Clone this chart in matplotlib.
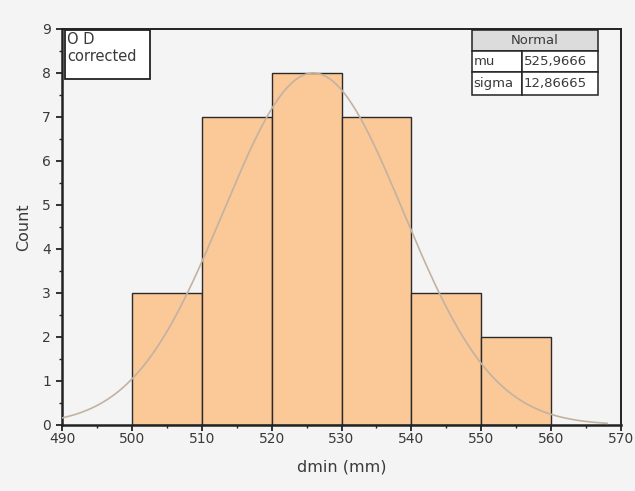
import numpy as np
import matplotlib
matplotlib.use("Agg")
import matplotlib.pyplot as plt
from matplotlib.ticker import MultipleLocator
from matplotlib.patches import Rectangle

bin_edges = [500, 510, 520, 530, 540, 550, 560]
counts = [3, 7, 8, 7, 3, 2]
mu = 525.9666
sigma = 12.86665
curve_peak = 8.0
curve_range = (490, 568)
x_ticks = [490, 500, 510, 520, 530, 540, 550, 560, 570]
y_ticks = list(range(0, 10))
table_header = 'Normal'
table_rows = [['mu', '525,9666'], ['sigma', '12,86665']]
note_text = 'O D\ncorrected'

plt.rcParams['font.family'] = ['Liberation Sans', 'DejaVu Sans']
wide = ['DejaVu Sans']

W, H = 635, 491
bg = '#f4f4f4'
fig = plt.figure(figsize=(W / 100, H / 100), dpi=100, facecolor=bg)
ax_l, ax_r, ax_t, ax_b = 62, 621, 29, 425
ax = fig.add_axes([ax_l / W, 1 - ax_b / H, (ax_r - ax_l) / W, (ax_b - ax_t) / H], facecolor=bg)

lefts = bin_edges[:-1]
widths = np.diff(bin_edges)
ax.bar(lefts, counts, width=widths, align='edge', color='#fbc898',
       edgecolor='#2a2a2a', linewidth=1.0, zorder=2)

xs = np.linspace(curve_range[0], curve_range[1], 400)
ys = curve_peak * np.exp(-0.5 * ((xs - mu) / sigma) ** 2)
ax.plot(xs, ys, color='#c2b2a2', linewidth=1.2, zorder=3)

ax.set_xlim(490, 570)
ax.set_ylim(0, 9)
ax.set_xticks(x_ticks)
ax.set_yticks(y_ticks)
ax.xaxis.set_minor_locator(MultipleLocator(5))
ax.yaxis.set_minor_locator(MultipleLocator(0.5))
ax.tick_params(axis='both', which='major', direction='out', length=4, width=1.3,
               labelsize=11, labelcolor='#3a3a3a', color='#222222')
ax.tick_params(axis='both', which='minor', direction='out', length=2.5, width=1.0,
               color='#222222')
ax.tick_params(axis='x', pad=1)
ax.tick_params(axis='y', pad=4)
for lbl in ax.get_xticklabels() + ax.get_yticklabels():
    lbl.set_family(wide)
    lbl.set_fontsize(10)
for k, s in ax.spines.items():
    s.set_color('#222222')
    s.set_linewidth(1.8 if k in ('left', 'bottom') else 1.4)

ax.set_xlabel('dmin (mm)', fontsize=11.5, color='#3a3a3a', labelpad=10, family=wide)
ax.set_ylabel('Count', fontsize=11.5, color='#3a3a3a', labelpad=8, family=wide)


def fx(px):
    return px / W


def fy(py):
    return 1 - py / H


# Text box top-left
fig.patches.append(Rectangle((fx(65), fy(79)), fx(150) - fx(65), fy(30) - fy(79),
                             transform=fig.transFigure, facecolor='white',
                             edgecolor='#222222', linewidth=1.3, zorder=5))
fig.text(fx(67), fy(32), note_text, ha='left', va='top', fontsize=10.5,
         color='#3a3a3a', linespacing=1.2, zorder=6, family=wide)

# Table top-right
t_l, t_r, t_mid = 472, 598, 522
row_y = [30, 51, 72, 95]
fig.patches.append(Rectangle((fx(t_l), fy(row_y[1])), fx(t_r) - fx(t_l), fy(row_y[0]) - fy(row_y[1]),
                             transform=fig.transFigure, facecolor='#dcdcdc',
                             edgecolor='#222222', linewidth=1.1, zorder=5))
fig.text((fx(t_l) + fx(t_r)) / 2, (fy(row_y[0]) + fy(row_y[1])) / 2, table_header,
         ha='center', va='center', fontsize=9.5, color='#3a3a3a', zorder=6, family=wide)
for i, (name, val) in enumerate(table_rows):
    top, bot = row_y[i + 1], row_y[i + 2]
    fig.patches.append(Rectangle((fx(t_l), fy(bot)), fx(t_mid) - fx(t_l), fy(top) - fy(bot),
                                 transform=fig.transFigure, facecolor='white',
                                 edgecolor='#222222', linewidth=1.1, zorder=5))
    fig.patches.append(Rectangle((fx(t_mid), fy(bot)), fx(t_r) - fx(t_mid), fy(top) - fy(bot),
                                 transform=fig.transFigure, facecolor='white',
                                 edgecolor='#222222', linewidth=1.1, zorder=5))
    cy = (fy(top) + fy(bot)) / 2
    fig.text(fx(t_l + 1.5), cy, name, ha='left', va='center', fontsize=9.5,
             color='#3a3a3a', zorder=6, family=wide)
    fig.text(fx(t_mid + 2), cy, val, ha='left', va='center', fontsize=9.5,
             color='#3a3a3a', zorder=6, family=wide)

fig.savefig('out.png', dpi=100, facecolor=bg)
